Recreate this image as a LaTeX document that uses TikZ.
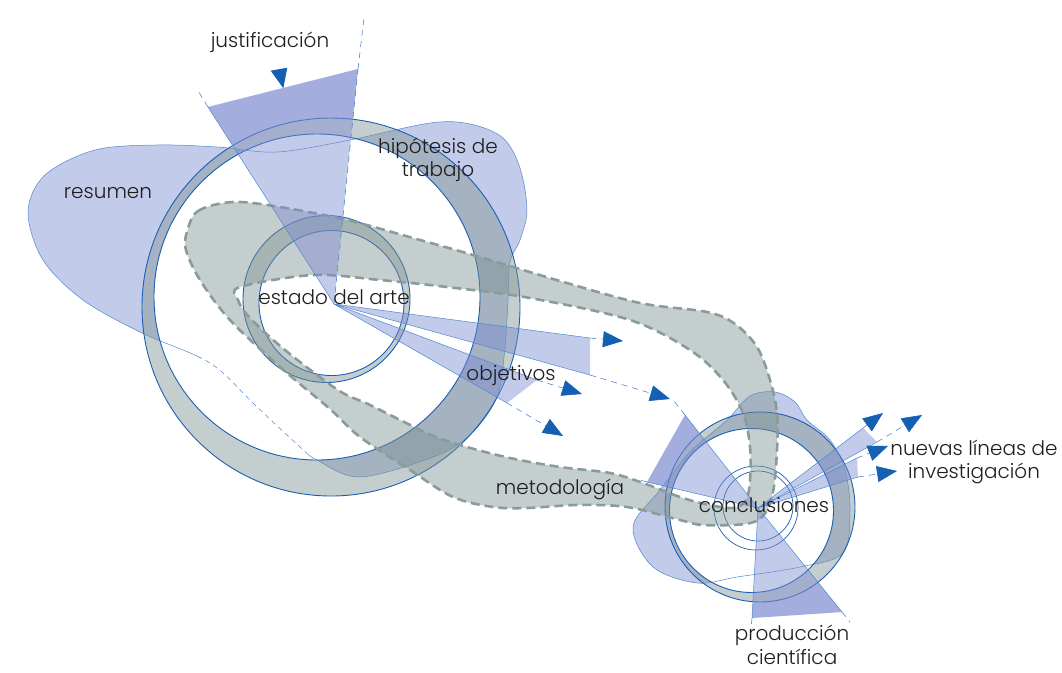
\documentclass[tikz,border=0pt]{standalone}
\usepackage{fontspec}
\setmainfont{Poppins}[UprightFont={* Light}]
\usetikzlibrary{arrows.meta}

\definecolor{ringblue}{HTML}{1A5FB4}
\definecolor{thinblue}{HTML}{4F86CF}
\definecolor{arrowblue}{HTML}{1560B3}
\definecolor{bandgray}{HTML}{7F9393}
\definecolor{banddash}{HTML}{8A9C9A}
\definecolor{wedgeblue}{HTML}{7B8BD0}
\definecolor{labelgray}{HTML}{1E1E1E}

\tikzset{
  ringfill/.style={fill=bandgray, fill opacity=0.45, even odd rule},
  ringline/.style={draw=ringblue, line width=0.9pt},
  smallring/.style={draw=ringblue, line width=0.7pt},
  blobfill/.style={fill=wedgeblue, fill opacity=0.45, even odd rule},
  blobline/.style={draw=thinblue, line width=0.5pt},
  band/.style={fill=bandgray, fill opacity=0.45, draw=banddash, line width=2.6pt,
               dash pattern=on 9pt off 5pt, even odd rule},
  wedge/.style={fill=wedgeblue, fill opacity=0.45},
  wedgeedge/.style={draw=thinblue, line width=0.5pt},
  extline/.style={draw=thinblue, line width=0.6pt, dash pattern=on 6pt off 5pt},
  arrowline/.style={extline, -{Triangle[length=20pt,width=16pt,color=arrowblue,fill=arrowblue]}},
  lab/.style={text=labelgray, font=\fontsize{20}{23.5}\selectfont, inner sep=0pt, align=center}
}

\begin{document}
\begin{tikzpicture}[x=1pt, y=-1pt]
\useasboundingbox (0,0) rectangle (1062,672);

% ---------- soft blue blobs behind the rings ----------
\def\resumenblob{plot[smooth cycle, tension=0.55] coordinates {
  (28,212) (45,175) (95,150) (157,145) (217,147) (277,152) (350,140) (430,123)
  (470,124) (503,138) (520,168) (527,210) (520,240) (510,262) (508,300) (505,347)
  (497,397) (470,435) (433,457) (360,477) (317,460) (300,447) (255,405) (210,363)
  (142,333) (83,300) (43,260)}}
\begin{scope}
  \clip \resumenblob;
  \path[blobfill] (0,0) rectangle (1062,672) (317,297) circle[radius=163];
\end{scope}
% outline: solid, except the stretch crossing the lower inside of the big circle
\begin{scope}
  \clip (0,0) rectangle (1062,340) (0,455) rectangle (1062,672)
        (0,340) rectangle (200,455) (310,340) rectangle (1062,455);
  \draw[blobline] \resumenblob;
\end{scope}
\begin{scope}
  \clip (200,340) rectangle (310,455);
  \draw[blobline, dash pattern=on 5pt off 4pt] \resumenblob;
\end{scope}

\def\conclblob{plot[smooth cycle, tension=0.55] coordinates {
  (633,527) (653,567) (697,583) (737,577) (800,567) (843,553) (850,510) (845,470)
  (830,440) (807,420) (795,402) (775,392) (750,396) (727,420) (690,452) (660,490)}}
\begin{scope}
  \clip \conclblob;
  \path[blobfill] (0,0) rectangle (1062,672) (751.5,510.5) circle[radius=82];
\end{scope}
\draw[blobline] \conclblob;

% ---------- rings ----------
\path[ringfill] (331,307) circle[radius=189] (317,297) circle[radius=163];
\draw[ringline] (331,307) circle[radius=189];
\draw[ringline] (317,297) circle[radius=163];

\path[ringfill] (326.5,299) circle[radius=83.5] (331.5,303) circle[radius=72.5];
\draw[ringline] (326.5,299) circle[radius=83.5];
\draw[ringline] (331.5,303) circle[radius=72.5];

\path[ringfill] (760,507) circle[radius=95] (751.5,510.5) circle[radius=82];
\draw[ringline] (760,507) circle[radius=95];
\draw[ringline] (751.5,510.5) circle[radius=82];
\draw[smallring] (756,508) circle[radius=42];
\draw[smallring] (758,506) circle[radius=35];

% ---------- the dashed loop ----------
\path[band]
  plot[smooth cycle, tension=0.55] coordinates {
    (187,232) (198,211) (233,202) (280,207) (347,220) (413,238) (480,257) (560,281)
    (640,303) (707,312) (735,324) (757,347) (770,380) (777,413) (777,450) (773,492)
    (763,516) (745,524) (703,525) (680,520) (627,507) (577,505) (527,508) (493,507)
    (453,497) (410,470) (360,437) (330,409) (280,367) (230,320) (200,280) (186,250)}
  plot[smooth cycle, tension=0.55] coordinates {
    (240,287) (313,275) (380,280) (447,287) (530,298) (630,320) (690,350) (723,380)
    (743,413) (750,447) (750,480) (746,500) (733,508) (705,504) (680,497) (643,483)
    (610,473) (560,467) (510,458) (460,445) (427,433) (370,405) (338,390) (285,350)
    (250,318) (238,300)};

% ---------- key points ----------
\coordinate (E) at (334,304);
\coordinate (C) at (758,508);
\coordinate (j1) at (208,107);
\coordinate (j2) at (358,69);
\coordinate (j1x) at (197,89);
\coordinate (j2x) at (364,18);
\coordinate (w1a) at (590,338);
\coordinate (w1b) at (590,375);
\coordinate (w2a) at (537,380);
\coordinate (w2b) at (507,403);
\coordinate (a1) at (623,341);
\coordinate (a2) at (582,394);
\coordinate (a3) at (670,399);
\coordinate (a4) at (563,436);
\coordinate (l1) at (685,415);
\coordinate (l2) at (647,482);
\coordinate (l1x) at (674,401);
\coordinate (l2x) at (636,479);
\coordinate (b1) at (752,618);
\coordinate (b2) at (842,612);
\coordinate (b1x) at (750,640);
\coordinate (b2x) at (850,622);
\coordinate (r1a) at (863,428);
\coordinate (r1b) at (877,442);
\coordinate (r2a) at (857,458);
\coordinate (r2b) at (858,477);
\coordinate (A1) at (883,413);
\coordinate (A2) at (922,415);
\coordinate (A3) at (888,446);
\coordinate (A4) at (897,471);

% ---------- wedges from "estado del arte" ----------
\fill[wedge] (E) -- (j1) -- (j2) -- cycle;
\begin{scope}
  \clip (E) -- (j1) -- (j2) -- cycle;
  \path[blobfill] (0,0) rectangle (1062,672) (331,307) circle[radius=189];
\end{scope}
\draw[wedgeedge] (j1) -- (E);
\draw[extline] (E) -- (j2);
\draw[extline] (j1) -- (j1x);
\draw[extline] (j2) -- (j2x);
\fill[arrowblue] (270.7,70.7) -- (287.3,67.7) -- (283.3,88.3) -- cycle;

\fill[wedge] (E) -- (w1a) -- (w1b) -- cycle;
\draw[wedgeedge] (w1a) -- (E) -- (w1b);
\fill[wedge] (E) -- (w2a) -- (w2b) -- cycle;
\draw[wedgeedge] (w2a) -- (E) -- (w2b);

\draw[arrowline] (w1a) -- (a1);
\draw[arrowline] (w1b) -- (a3);
\draw[arrowline] (w2a) -- (a2);
\draw[arrowline] (w2b) -- (a4);

% ---------- wedges from "conclusiones" ----------
\fill[wedge] (C) -- (l1) -- (l2) -- cycle;
\begin{scope}
  \clip (C) -- (l1) -- (l2) -- cycle;
  \path[blobfill] (0,0) rectangle (1062,672) (760,507) circle[radius=95];
\end{scope}
\draw[wedgeedge] (l1) -- (C) -- (l2);
\draw[extline] (l1) -- (l1x);
\draw[extline] (l2) -- (l2x);

\fill[wedge] (C) -- (b1) -- (b2) -- cycle;
\begin{scope}
  \clip (C) -- (b1) -- (b2) -- cycle;
  \path[blobfill] (0,0) rectangle (1062,672) (760,507) circle[radius=95];
\end{scope}
\draw[wedgeedge] (b1) -- (C) -- (b2);
\draw[extline] (b1) -- (b1x);
\draw[extline] (b2) -- (b2x);

\fill[wedge] (C) -- (r1a) -- (r1b) -- cycle;
\draw[wedgeedge] (r1a) -- (C) -- (r1b);
\fill[wedge] (C) -- (r2a) -- (r2b) -- cycle;
\draw[wedgeedge] (r2a) -- (C) -- (r2b);

\draw[arrowline] (r1a) -- (A1);
\draw[arrowline] (r1b) -- (A2);
\draw[arrowline] (r2a) -- (A3);
\draw[arrowline] (r2b) -- (A4);

% ---------- labels ----------
\node[lab] (jus) at (270,42) {justificación};
\node[lab] (res) at (108,193) {resumen};
\node[lab] (hip) at (438,160) {hipótesis de\\trabajo};
\node[lab] (est) at (334,297) {estado del arte};
\node[lab] (obj) at (511,376) {objetivos};
\node[lab] (met) at (560,489) {metodología};
\node[lab] (con) at (764,505) {conclusiones};
\node[lab] (nue) at (974,462) {nuevas líneas de\\investigación};
\node[lab] (pro) at (792,645) {producción\\científica};
\end{tikzpicture}
\end{document}
